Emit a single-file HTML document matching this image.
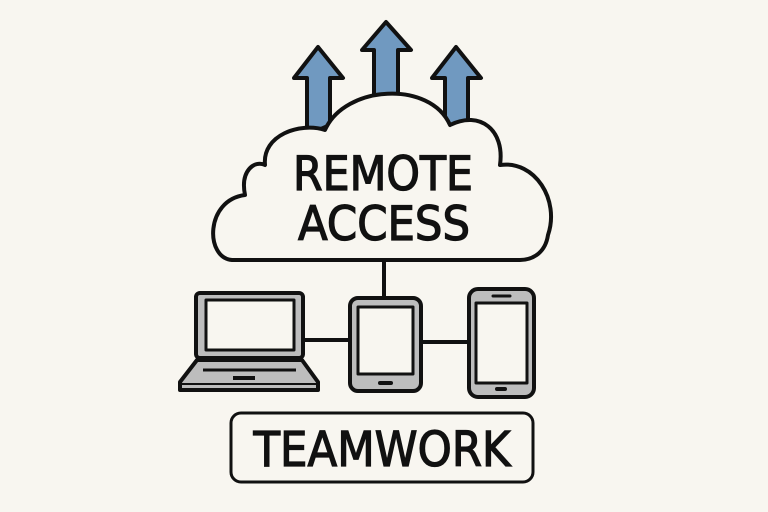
<!DOCTYPE html>
<html><head><style>html,body{margin:0;padding:0;background:#f8f6f0;}svg{display:block}</style></head>
<body>
<svg width="768" height="512" viewBox="0 0 768 512" xmlns="http://www.w3.org/2000/svg">
<rect width="768" height="512" fill="#f8f6f0"/>
<g stroke="#111" stroke-width="4" stroke-linejoin="round" fill="#7099c0">
<path d="M307,135 L307,78 L294,78 L318,47 L343,78 L330,78 L330,125 Z"/>
<path d="M374,100 L374,50 L362,50 L386,22 L411,50 L398,50 L398,100 Z"/>
<path d="M445,125 L445,78 L432,78 L456,47 L481,78 L468,78 L468,125 Z"/>
</g>
<path d="M232,260 C205,258 205,200 245,195 C240,170 255,160 265,165 C262,135 300,122 325,130 C345,85 430,80 450,125 C480,110 505,130 500,165 C535,160 560,200 548,235 C545,255 530,260 520,260 Z" fill="#f8f6f0" stroke="#111" stroke-width="4" stroke-linejoin="round"/>
<g font-family="DejaVu Sans, sans-serif" fill="#111" stroke="#111" stroke-width="1.3" text-anchor="middle">
<text x="383" y="190" font-size="47" textLength="180" lengthAdjust="spacingAndGlyphs">REMOTE</text>
<text x="384" y="240" font-size="47" textLength="172" lengthAdjust="spacingAndGlyphs">ACCESS</text>
</g>
<g stroke="#111" stroke-width="4">
<line x1="384" y1="260" x2="384" y2="298"/>
<line x1="303" y1="340" x2="350" y2="340"/>
<line x1="421" y1="342" x2="468" y2="342"/>
</g>
<g stroke="#111" stroke-width="4" stroke-linejoin="round">
<rect x="196" y="293" width="107" height="65" rx="4" fill="#bdbdbd"/>
<rect x="206" y="300" width="88" height="50" fill="#f8f6f0" stroke-width="3"/>
<path d="M197,360 L302,360 L318,382 L318,390 L180,390 L180,382 Z" fill="#bdbdbd"/>
<line x1="203" y1="370" x2="296" y2="370" stroke-width="3"/>
<line x1="233" y1="378" x2="255" y2="378" stroke-width="4"/>
<line x1="182" y1="384" x2="316" y2="384" stroke-width="2"/>
<rect x="350" y="298" width="71" height="93" rx="8" fill="#bdbdbd"/>
<rect x="358" y="307" width="55" height="67" fill="#f8f6f0" stroke-width="3"/>
<line x1="380" y1="383" x2="391" y2="383" stroke-width="4" stroke-linecap="round"/>
<rect x="469" y="289" width="65" height="108" rx="9" fill="#bdbdbd"/>
<rect x="476" y="303" width="51" height="80" fill="#f8f6f0" stroke-width="3"/>
<line x1="493" y1="296" x2="510" y2="296" stroke-width="3" stroke-linecap="round"/>
<line x1="497" y1="389" x2="505" y2="389" stroke-width="4" stroke-linecap="round"/>
<rect x="231" y="413" width="302" height="69" rx="10" fill="#f8f6f0" stroke-width="3"/>
</g>
<text x="382" y="466" font-family="DejaVu Sans, sans-serif" font-size="48" fill="#111" stroke="#111" stroke-width="1.3" text-anchor="middle" textLength="257" lengthAdjust="spacingAndGlyphs">TEAMWORK</text>
</svg>
</body></html>
